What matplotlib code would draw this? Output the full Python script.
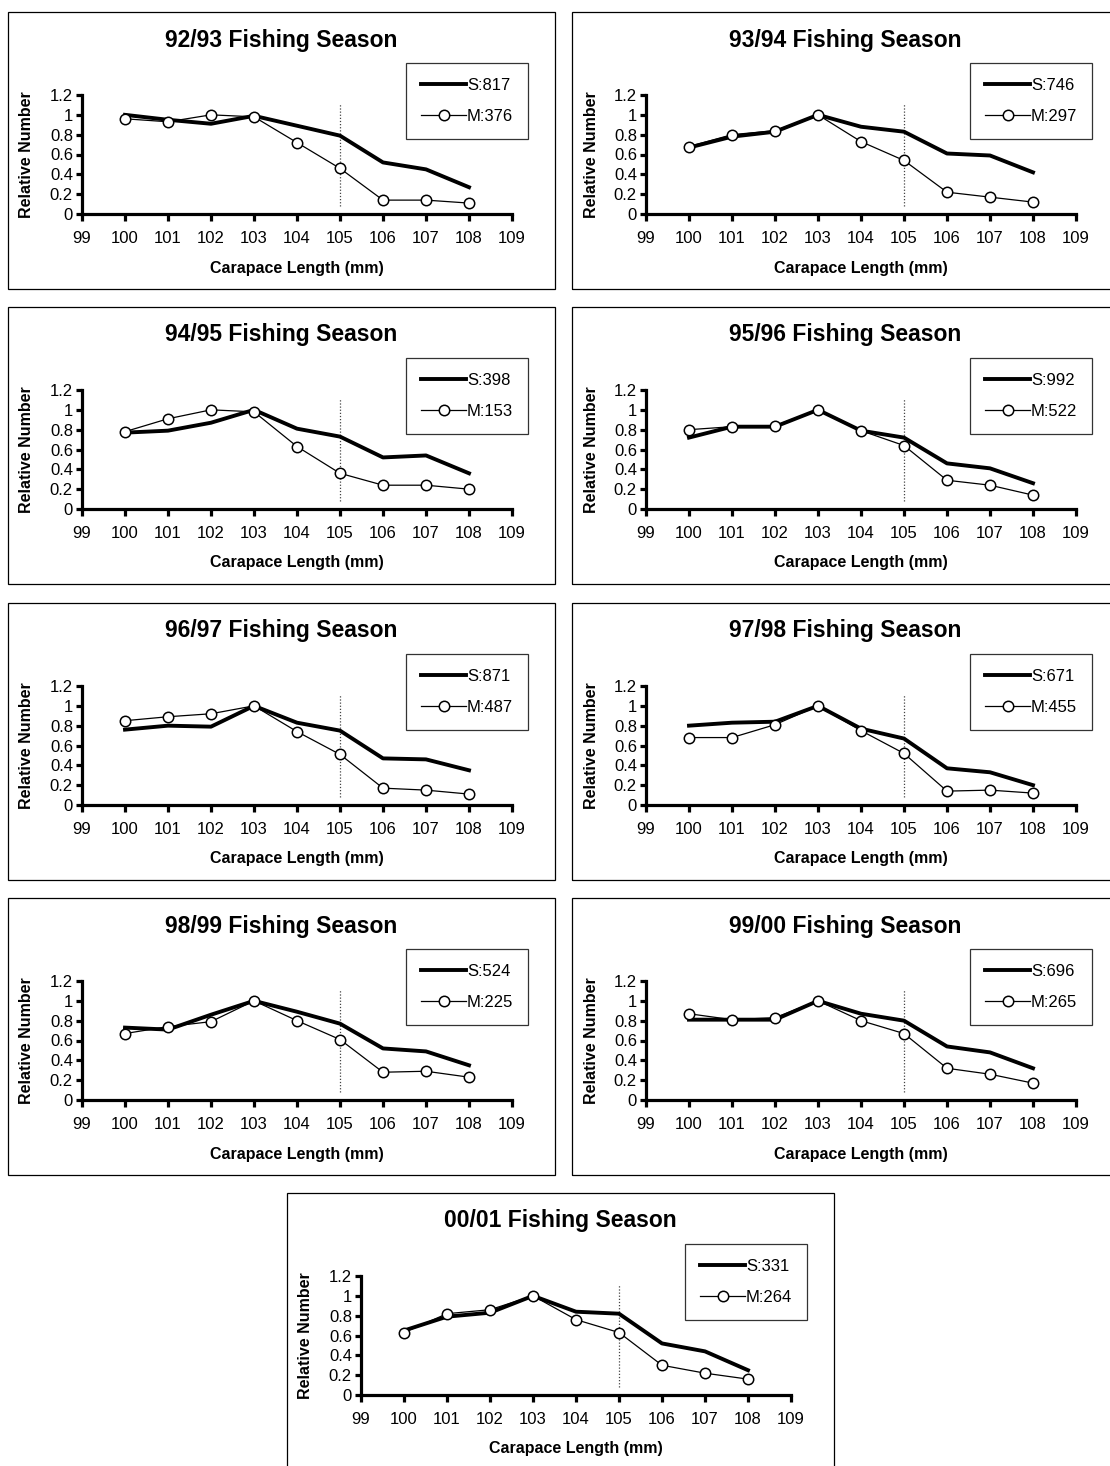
import matplotlib
matplotlib.use('Agg')
import matplotlib.pyplot as plt
from matplotlib.patches import Rectangle
from matplotlib.lines import Line2D

plt.rcParams['font.family'] = ['Liberation Sans', 'DejaVu Sans']

# ------------------------------------------------------------
# data
# ------------------------------------------------------------
lengths = [100, 101, 102, 103, 104, 105, 106, 107, 108]
x_ticks = [99, 100, 101, 102, 103, 104, 105, 106, 107, 108, 109]
y_ticks = [0, 0.2, 0.4, 0.6, 0.8, 1.0, 1.2]
y_tick_labels = ['0', '0.2', '0.4', '0.6', '0.8', '1', '1.2']
legal_size = 105

seasons = ['92/93', '93/94', '94/95', '95/96', '96/97',
           '97/98', '98/99', '99/00', '00/01']
s_counts = [817, 746, 398, 992, 871, 671, 524, 696, 331]
m_counts = [376, 297, 153, 522, 487, 455, 225, 265, 264]

s_9293 = [1.00, 0.95, 0.91, 0.99, 0.89, 0.79, 0.52, 0.45, 0.27]
m_9293 = [0.96, 0.93, 1.00, 0.98, 0.72, 0.46, 0.14, 0.14, 0.11]
s_9394 = [0.67, 0.78, 0.83, 1.00, 0.88, 0.83, 0.61, 0.59, 0.42]
m_9394 = [0.68, 0.80, 0.84, 1.00, 0.73, 0.54, 0.22, 0.17, 0.12]
s_9495 = [0.77, 0.79, 0.87, 1.00, 0.81, 0.73, 0.52, 0.54, 0.36]
m_9495 = [0.78, 0.91, 1.00, 0.98, 0.63, 0.36, 0.24, 0.24, 0.20]
s_9596 = [0.72, 0.83, 0.83, 1.00, 0.79, 0.72, 0.46, 0.41, 0.26]
m_9596 = [0.80, 0.83, 0.84, 1.00, 0.79, 0.64, 0.29, 0.24, 0.14]
s_9697 = [0.76, 0.80, 0.79, 1.00, 0.83, 0.75, 0.47, 0.46, 0.35]
m_9697 = [0.85, 0.89, 0.92, 1.00, 0.74, 0.51, 0.17, 0.15, 0.11]
s_9798 = [0.80, 0.83, 0.84, 1.00, 0.77, 0.67, 0.37, 0.33, 0.20]
m_9798 = [0.68, 0.68, 0.81, 1.00, 0.75, 0.52, 0.14, 0.15, 0.12]
s_9899 = [0.73, 0.71, 0.86, 1.00, 0.89, 0.77, 0.52, 0.49, 0.35]
m_9899 = [0.67, 0.74, 0.79, 1.00, 0.80, 0.61, 0.28, 0.29, 0.23]
s_9900 = [0.81, 0.81, 0.81, 1.00, 0.87, 0.80, 0.54, 0.48, 0.32]
m_9900 = [0.87, 0.81, 0.83, 1.00, 0.80, 0.67, 0.32, 0.26, 0.17]
s_0001 = [0.65, 0.79, 0.83, 1.00, 0.84, 0.82, 0.52, 0.44, 0.25]
m_0001 = [0.63, 0.82, 0.86, 1.00, 0.76, 0.63, 0.30, 0.22, 0.16]

s_series = [s_9293, s_9394, s_9495, s_9596, s_9697, s_9798, s_9899, s_9900, s_0001]
m_series = [m_9293, m_9394, m_9495, m_9596, m_9697, m_9798, m_9899, m_9900, m_0001]

# ------------------------------------------------------------
# layout (pixels)
# ------------------------------------------------------------
W, H = 1110, 1466
BOX_W, BOX_H = 547, 277
box_corners = [(8, 12), (572, 12), (8, 307), (572, 307), (8, 603),
               (572, 603), (8, 898), (572, 898), (287, 1193)]

fig = plt.figure(figsize=(W / 100, H / 100), dpi=100)


def fx(px):
    return px / W


def fy(py):
    return 1 - py / H


def draw_panel(bl, bt, season, s_vals, m_vals, s_n, m_n):
    fig.patches.append(Rectangle((fx(bl), fy(bt + BOX_H)), BOX_W / W, BOX_H / H,
                                 transform=fig.transFigure, fill=False,
                                 edgecolor='black', linewidth=0.9))

    ax = fig.add_axes([fx(bl + 74), fy(bt + 202), 430 / W, 119 / H])
    ax.set_xlim(99, 109)
    ax.set_ylim(0, 1.2)

    ax.vlines(legal_size, 0.08, 1.12, colors='#444444', linestyles=(0, (1, 1.5)),
              linewidth=0.9)
    ax.plot(lengths, s_vals, color='black', linewidth=2.8,
            solid_joinstyle='round', clip_on=False)
    ax.plot(lengths, m_vals, color='black', linewidth=0.9,
            marker='o', markersize=7.5, markerfacecolor='white',
            markeredgecolor='black', markeredgewidth=1.1, clip_on=False)

    for side in ['top', 'right']:
        ax.spines[side].set_visible(False)
    for side in ['left', 'bottom']:
        ax.spines[side].set_linewidth(2.3)
    ax.set_xticks(x_ticks)
    ax.set_yticks(y_ticks)
    ax.set_yticklabels(y_tick_labels)
    ax.tick_params(axis='x', direction='out', length=5, width=2.3,
                   labelsize=12, pad=7)
    ax.tick_params(axis='y', direction='out', length=4.5, width=2.3,
                   labelsize=12, pad=2)
    ax.set_facecolor('none')

    fig.text(fx(bl + BOX_W / 2), fy(bt + 28), f'{season} Fishing Season',
             ha='center', va='center', fontsize=16.5, fontweight='bold')
    fig.text(fx(bl + 74 + 215), fy(bt + 256), 'Carapace Length (mm)',
             ha='center', va='center', fontsize=11.5, fontweight='bold')
    fig.text(fx(bl + 19), fy(bt + 143), 'Relative Number', rotation=90,
             ha='center', va='center', fontsize=11.5, fontweight='bold')

    handles = [Line2D([], [], color='black', linewidth=2.8),
               Line2D([], [], color='black', linewidth=0.9, marker='o',
                      markersize=7.5, markerfacecolor='white',
                      markeredgewidth=1.1)]
    leg = ax.legend(handles, [f'S:{s_n}', f'M:{m_n}'], loc='upper left',
                    bbox_to_anchor=(fx(bl + 398), fy(bt + 51)),
                    bbox_transform=fig.transFigure, borderaxespad=0,
                    fontsize=12, frameon=True, fancybox=False,
                    edgecolor='black', handlelength=2.7, handletextpad=0.05,
                    labelspacing=0.95, borderpad=0.9)
    leg.get_frame().set_linewidth(0.9)


for (bl, bt), season, s_vals, m_vals, s_n, m_n in zip(
        box_corners, seasons, s_series, m_series, s_counts, m_counts):
    draw_panel(bl, bt, season, s_vals, m_vals, s_n, m_n)

fig.savefig('out.png', dpi=100, facecolor='white')
